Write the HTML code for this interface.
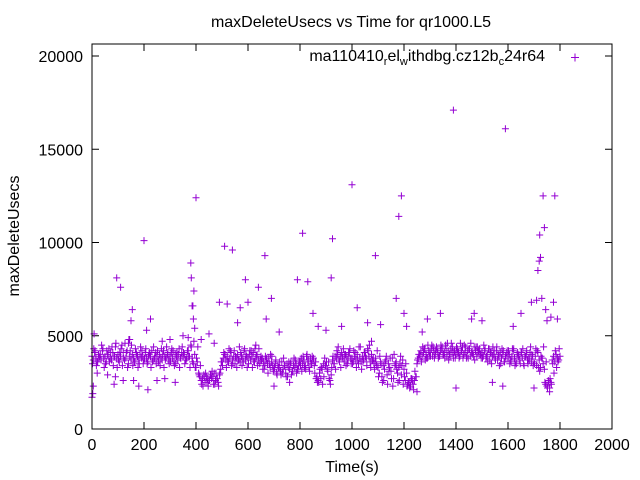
<!DOCTYPE html>
<html><head><meta charset="utf-8"><style>
html,body{margin:0;padding:0;background:#fff;}
svg{display:block;font-family:"Liberation Sans",sans-serif;}
</style></head><body>
<svg id="chart" width="640" height="480" viewBox="0 0 640 480" xmlns="http://www.w3.org/2000/svg">
<rect width="640" height="480" fill="#fff"/>
<text x="351" y="27" font-size="16" text-anchor="middle">maxDeleteUsecs vs Time for qr1000.L5</text>
<text x="19" y="236" font-size="16" text-anchor="middle" transform="rotate(-90 19 236)">maxDeleteUsecs</text>
<text x="352" y="472" font-size="16" text-anchor="middle">Time(s)</text>
<g id="axes"></g>
<g id="marks"></g>
<g>
<text x="545" y="61" font-size="16" text-anchor="end">ma110410<tspan font-size="11" dy="4">r</tspan><tspan dy="-4">el</tspan><tspan font-size="11" dy="4">w</tspan><tspan dy="-4">ithdbg.cz12b</tspan><tspan font-size="11" dy="4">c</tspan><tspan dy="-4">24r64</tspan></text>
<path d="M571 57.5h8M575 53.5v8" stroke="#9400d3" stroke-width="1"/>
</g>
<rect x="92" y="44" width="520" height="385" fill="none" stroke="#000" stroke-width="1"/>
</svg>
<script>
const xTicks=[0,200,400,600,800,1000,1200,1400,1600,1800,2000];
const yTicks=[0,5000,10000,15000,20000];
const bandAStart=0, bandAStep=5;
const bandAValues=[
3900,3700,4100,3800,3600,4000,3900,3700,4200,3800,3900,3600,4000,4300,3800,3700,4100,3900,4400,3800,
4000,3600,3900,4500,4100,3700,3800,4200,3500,3900,3700,4000,3800,3600,4100,3900,3700,4000,3800,3900,
3700,4100,3800,3600,4000,3900,4200,3700,3800,4100,3900,3600,4000,3800,3700,4200,3900,3800,4000,3700,
3900,4100,3800,3600,4000,3900,3700,4300,3800,4100,3900,4000,3700,3800,4200,3900,4500,3800,3500,4000,
3300,3600,3000,2800,2600,2700,2900,2500,2800,2700,2600,2900,2700,2800,3000,2600,2700,2500,2900,3200,
3600,3800,4000,3700,3900,3600,3800,4100,3700,3900,3500,3800,4000,3700,3600,3900,3800,4200,3700,3900,
3800,4000,3700,3900,4100,3600,3800,4000,3700,3500,3900,3800,3600,3400,3700,3500,3800,3300,3600,3400,
3200,3500,3000,3400,3300,3100,3600,3200,3400,3000,3500,3300,3200,3600,3100,3400,3300,3500,3200,3400,
3600,3800,3500,3700,3400,3900,3600,3300,3800,3500,3700,3400,3600,2800,2600,3000,2700,3200,3500,3800,
3400,3200,3600,2600,2900,3700,3500,3900,3800,4000,3700,3900,4100,3800,3600,4000,3900,3700,4100,3800,
3800,3600,3900,3700,4000,3500,3800,3600,3900,3700,4100,3800,4300,3900,3600,4000,3700,3500,3800,3400,
3300,3000,3600,2800,3400,3200,3700,2900,3500,3300,3100,3800,2700,3400,3600,3000,3300,3500,2900,3700,
3200,2600,3000,2400,2500,2300,2700,2400,2600,2800,3500,3800,4000,4200,3900,4100,4300,4000,3800,4200,
4100,4300,3900,4200,4000,4400,4100,3900,4200,4300,4000,4100,4500,3900,4200,4000,4300,4100,3800,4200,
4000,4300,4100,3900,4200,4400,4000,4100,3800,4200,4300,3900,4100,4000,4400,4200,3900,4100,4300,4000,
4100,3900,4200,3800,4000,4300,3700,4100,3900,4000,3800,4200,3700,3900,4100,3800,4000,3600,3900,4100,
3800,4000,3700,3900,4200,3800,3600,4000,3900,3700,4100,3800,3500,3900,4000,3700,3800,4100,3600,3900,
3600,3900,3400,4100,3700,3300,3800,3500,3200,2400,2300,2600,2200,2500,3700,3900,3600,4000,3800,3700,
3900];
const bandBStart=2, bandBStep=10;
const bandBValues=[
3500,4200,3600,4000,4300,3500,3900,4100,3400,4600,
3700,4300,3800,4100,4800,4500,3600,4000,3500,4200,
3800,3500,4100,3600,3900,4200,3400,4000,3700,4100,
3600,4200,3500,4000,3800,4100,3700,3900,4400,4700,
3800,2900,2400,2800,2500,2600,3100,2400,2700,3000,
3400,4000,3600,4200,3500,3900,3700,4100,3600,4000,
3500,4200,3600,3900,4300,3700,3200,3800,3500,3900,
3300,2900,3600,3000,3400,2800,3500,3100,3700,3200,
3400,3900,3200,3700,3500,3800,2700,2500,3300,2800,
3600,2700,3300,3500,4200,3600,3900,4000,3500,4300,
3500,4100,3700,4400,3600,3900,4200,3300,3800,3600,
2800,3500,2600,3900,3100,2700,4000,3200,2600,3400,
2800,2300,2200,2600,3100,3700,3900,4400,3700,4500,
3900,4400,4200,3800,4500,4000,4300,3700,4600,4100,
4400,3800,4200,4500,3900,4300,4100,3700,4400,4000,
3800,4300,3600,4100,4400,3700,4000,3500,4200,3800,
4200,3600,4300,3500,4000,4100,3400,4200,3700,4000,
3500,4200,3100,3800,2500,2200,2700,3500,4200,3600];
const bandCStart=7, bandCStep=10;
const bandCValues=[
4300,3400,3800,4500,3300,4200,3600,4400,3900,3300,
4100,3400,4600,3300,4200,3400,4300,3300,4400,3500,
4300,3900,3300,4400,3500,3700,4300,3300,4400,3500,
4300,3400,4100,3300,4400,3500,4200,3300,3600,3300,
4400,3400,2300,3000,2300,2900,2400,3000,2300,3600,
4100,3300,4300,3400,4200,3300,4400,3400,4300,3300,
4200,3300,4300,3400,3700,3200,3900,3000,4000,3100,
3700,3300,2900,3800,2800,3600,2900,3800,3000,3600,
3100,3300,4000,3100,3900,3000,2500,3200,2400,3400,
3100,2400,3900,3200,4400,3300,4300,3400,4100,3500,
4200,3300,4400,3200,4100,3400,4500,3700,3200,4200,
3900,2500,3600,2400,3800,2300,3500,2500,3900,2400,
3500,2500,2700,2100,2800,4000,3600,4300,3800,3900,
4500,3800,4300,3900,4400,3800,4600,3900,4400,3800,
4100,4600,3800,4400,3800,4600,3900,4400,4200,3800,
4500,3900,4300,3500,4200,4400,3400,4300,3600,4200,
3500,4300,3400,4100,3500,4300,3900,3500,4400,3400,
4300,3300,3900,4400,3600,2500,2400,3000,3300,4300];
const outlierTimes=[0,3,5,8,20,60,85,90,95,110,120,140,145,150,155,160,180,200,210,215,225,250,270,280,300,320,350,370,380,382,385,388,390,392,395,400,420,450,470,490,510,520,540,560,570,590,600,630,640,665,670,690,700,720,760,790,810,830,850,870,900,920,925,960,1000,1020,1060,1075,1090,1110,1170,1180,1190,1200,1210,1250,1270,1290,1340,1390,1400,1460,1470,1500,1540,1580,1590,1620,1650,1690,1700,1710,1715,1720,1722,1725,1730,1735,1740,1745,1750,1760,1765,1775,1780,1790];
const outlierValues=[1700,1900,2300,5100,3000,2900,2400,2800,8100,7600,2600,4600,4800,5800,6400,2600,2300,10100,5300,2100,5900,2600,4700,2700,4800,2500,5000,4900,8900,8100,6600,6600,5900,7400,5400,12400,4800,5100,4600,6800,9800,6700,9600,5700,6500,8000,6800,4500,7600,9300,5900,7000,2300,5200,2500,8000,10500,7900,6200,5500,5300,8100,10200,5500,13100,6500,5700,4700,9300,5600,7000,11400,12500,6200,5500,2000,5200,5900,6200,17100,2200,5900,6200,5800,2500,2300,16100,5500,6200,6800,2200,6900,8500,9000,10400,9200,7000,12500,10800,6400,5800,2000,6000,6800,12500,5900];

const X0=92,X1=612,Y0=429,Y1=56;
const xScale=t=>X0+(X1-X0)*t/2000;
const yScale=v=>Y0-(Y0-Y1)*v/20000;
const NS="http://www.w3.org/2000/svg";
const axes=document.getElementById('axes');
const marks=document.getElementById('marks');
function mk(tag,attrs,parent){const e=document.createElementNS(NS,tag);for(const k in attrs)e.setAttribute(k,attrs[k]);parent.appendChild(e);return e;}
xTicks.forEach(t=>{
  const x=xScale(t);
  const tk=mk('path',{d:`M${x} 429v-7M${x} 44v7`,stroke:'#000','stroke-width':1},axes);
  
  
  const lb=mk('text',{x:x,y:450,'font-size':16,'text-anchor':'middle'},axes);
  lb.textContent=t;
  
  
});
yTicks.forEach(v=>{
  const y=yScale(v);
  const tk=mk('path',{d:`M92 ${y}h7M612 ${y}h-7`,stroke:'#000','stroke-width':1},axes);
  
  
  const lb=mk('text',{x:83,y:y+6,'font-size':16,'text-anchor':'end'},axes);
  lb.textContent=v;
  
  
});
let d='';
function add(t,v){const x=xScale(t),y=yScale(v);d+=`M${(x-3.5).toFixed(1)} ${y.toFixed(1)}h7M${x.toFixed(1)} ${(y-3.5).toFixed(1)}v7`;}
bandAValues.forEach((v,i)=>add(bandAStart+i*bandAStep,v));
bandBValues.forEach((v,i)=>add(bandBStart+i*bandBStep,v));
bandCValues.forEach((v,i)=>add(bandCStart+i*bandCStep,v));
outlierTimes.forEach((t,i)=>add(t,outlierValues[i]));
const p=mk('path',{d:d,stroke:'#9400d3','stroke-width':1,fill:'none'},marks);


</script>
</body></html>
